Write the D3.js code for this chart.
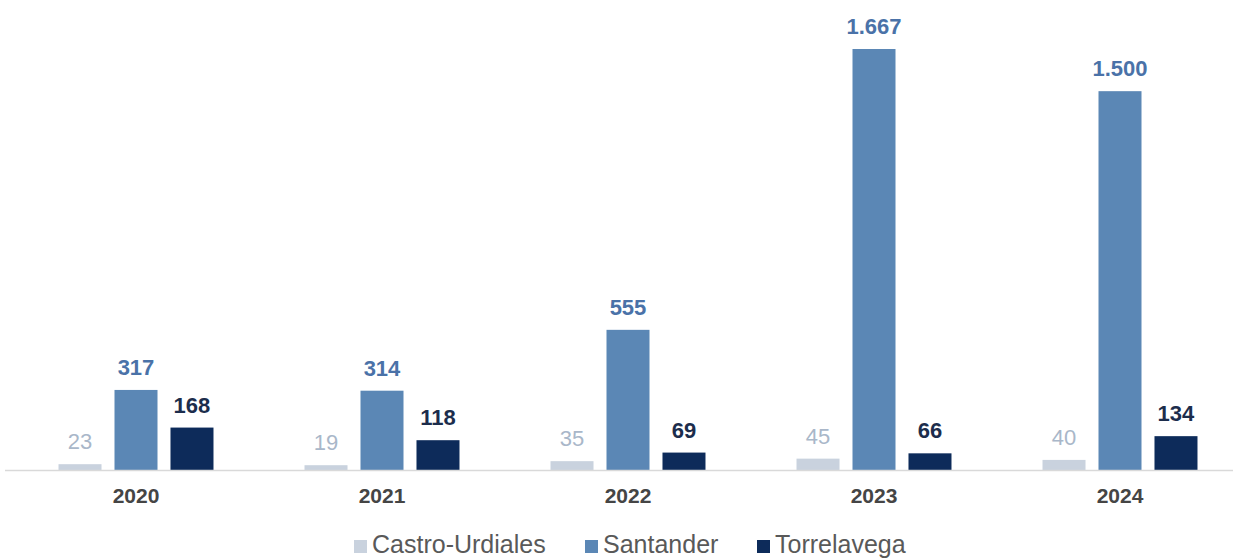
<!DOCTYPE html>
<html>
<head>
<meta charset="utf-8">
<script src="https://cdn.jsdelivr.net/npm/d3@7"></script>
<style>
  body { margin: 0; background: #fff; }
  svg { display: block; font-family: "Liberation Sans", Arial, sans-serif; }
</style>
</head>
<body>
<svg id="chart" width="1233" height="558"></svg>
<script>
const years = ["2020", "2021", "2022", "2023", "2024"];
const series = ["Castro-Urdiales", "Santander", "Torrelavega"];
const castro = [23, 19, 35, 45, 40];
const santander = [317, 314, 555, 1667, 1500];
const torrelavega = [168, 118, 69, 66, 134];

const colors = ["#c9d2de", "#5b87b5", "#0d2b5a"];
const labelColors = ["#a9b7c9", "#4a72a8", "#1c2d4c"];

const svg = d3.select("#chart");
const width = 1233;
const baseY = 470;

const data = years.map((y, i) => ({
  year: y,
  values: [castro[i], santander[i], torrelavega[i]]
}));

const x0 = d3.scaleBand()
  .domain(years)
  .range([13, 1243])
  .paddingInner(0.37)
  .paddingOuter(0.185);

const x1 = d3.scaleBand()
  .domain(series)
  .range([0, x0.bandwidth()])
  .paddingInner(0.232)
  .paddingOuter(0);

const y = d3.scaleLinear()
  .domain([0, 1667])
  .range([baseY, 49]);

const fmt = (v) => d3.format(",")(v).replace(/,/g, ".");

const groups = svg.append("g")
  .selectAll("g")
  .data(data)
  .join("g")
  .attr("transform", (d) => `translate(${ x0(d.year) },0)`);

const cells = groups.selectAll("g")
  .data((d) => d.values.map((v, k) => ({ key: series[k], k, value: v })))
  .join("g");

cells.append("rect")
  .attr("x", (d) => x1(d.key))
  .attr("y", (d) => y(d.value))
  .attr("width", x1.bandwidth())
  .attr("height", (d) => y(0) - y(d.value))
  .attr("fill", (d) => colors[d.k]);

cells.append("text")
  .attr("x", (d) => x1(d.key) + x1.bandwidth() / 2)
  .attr("y", (d) => y(d.value) - 15)
  .attr("text-anchor", "middle")
  .attr("font-size", 22)
  .attr("font-weight", (d) => d.k === 0 ? "normal" : "bold")
  .attr("fill", (d) => labelColors[d.k])
  .text((d) => fmt(d.value));

// eixo x
svg.append("line")
  .attr("x1", 5)
  .attr("x2", width)
  .attr("y1", baseY + 0.5)
  .attr("y2", baseY + 0.5)
  .attr("stroke", "#d9d9d9")
  .attr("stroke-width", 1.5);

svg.append("g")
  .selectAll("text")
  .data(years)
  .join("text")
  .attr("x", (d) => x0(d) + x0.bandwidth() / 2)
  .attr("y", 503)
  .attr("text-anchor", "middle")
  .attr("font-size", 21)
  .attr("font-weight", "bold")
  .attr("fill", "#454545")
  .text((d) => d);

// legenda
const legendX = [354, 585, 757];
const legend = svg.append("g")
  .selectAll("g")
  .data(series)
  .join("g")
  .attr("transform", (d, i) => `translate(${ legendX[i] },553)`);

legend.append("rect")
  .attr("x", 0)
  .attr("y", -13)
  .attr("width", 13)
  .attr("height", 13)
  .attr("fill", (d, i) => colors[i]);

legend.append("text")
  .attr("x", 18)
  .attr("y", 0)
  .attr("font-size", 25)
  .attr("fill", "#595959")
  .text((d) => d);
</script>
</body>
</html>
